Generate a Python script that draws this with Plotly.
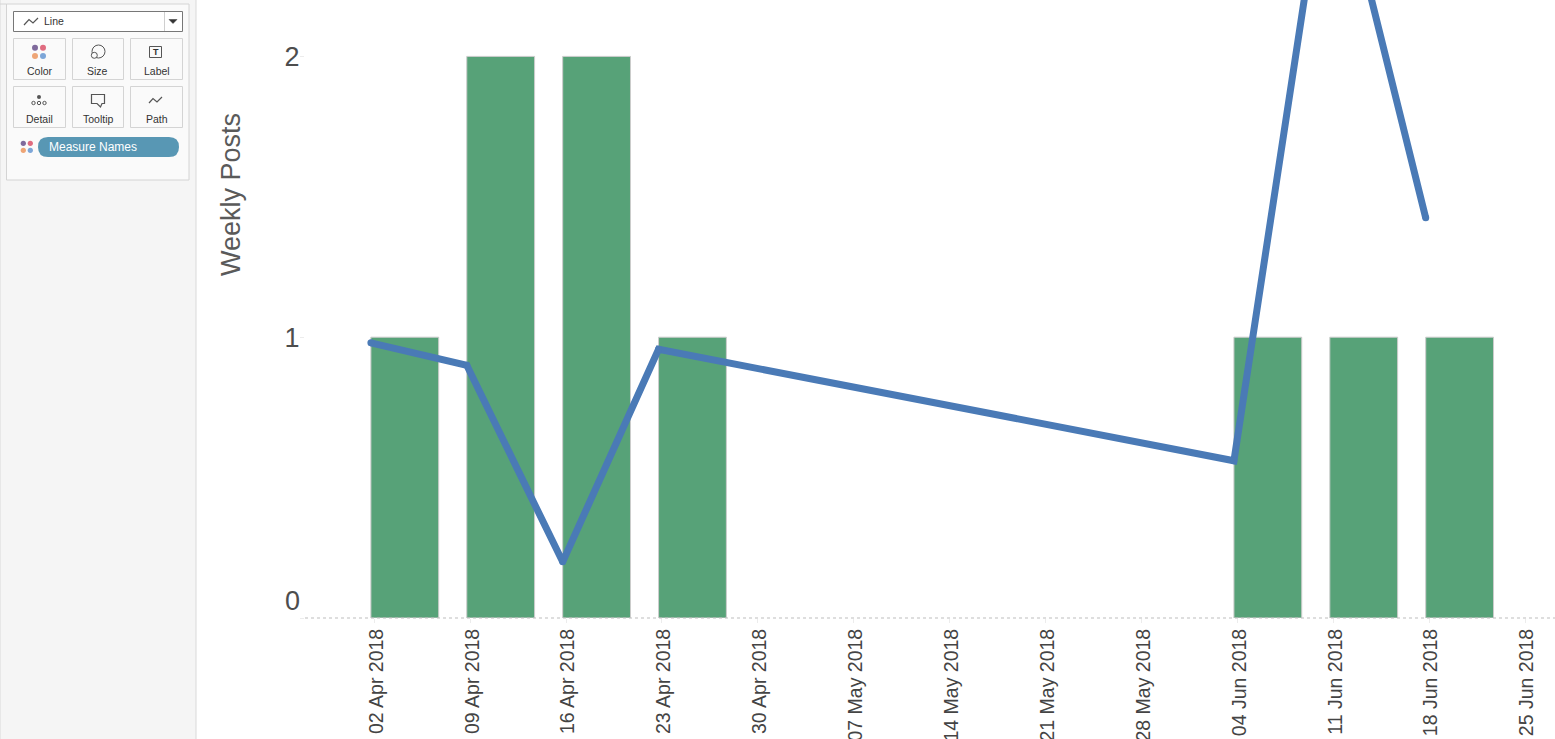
import plotly.graph_objects as go

# weekly data
bar_weeks = ['2018-04-02', '2018-04-09', '2018-04-16', '2018-04-23', '2018-06-04', '2018-06-11', '2018-06-18']
weekly_posts = [1, 2, 2, 1, 1, 1, 1]
line_values = [0.98, 0.90, 0.20, 0.957, 0.56, 2.80, 1.425]

tick_weeks = ['2018-04-02', '2018-04-09', '2018-04-16', '2018-04-23', '2018-04-30', '2018-05-07', '2018-05-14',
              '2018-05-21', '2018-05-28', '2018-06-04', '2018-06-11', '2018-06-18', '2018-06-25']
tick_labels = ['02 Apr 2018', '09 Apr 2018', '16 Apr 2018', '23 Apr 2018', '30 Apr 2018', '07 May 2018', '14 May 2018',
               '21 May 2018', '28 May 2018', '04 Jun 2018', '11 Jun 2018', '18 Jun 2018', '25 Jun 2018']

W, H = 1555, 739
DAY_MS = 86400000
FONT = 'Liberation Sans'
BORDER = '#d4d4d4'


def px(x):
    return x / W


def py(y):
    return 1 - y / H


def rect(x0, y0, x1, y1, fill=None, line=BORDER, width=1):
    return dict(type='rect', xref='paper', yref='paper', x0=px(x0), x1=px(x1), y0=py(y0), y1=py(y1),
                fillcolor=fill if fill else 'rgba(0,0,0,0)', line=dict(color=line, width=width), layer='below')


def dot(cx, cy, r, fill=None, line=None, width=1):
    return dict(type='circle', xref='paper', yref='paper', x0=px(cx - r), x1=px(cx + r), y0=py(cy - r), y1=py(cy + r),
                fillcolor=fill if fill else 'rgba(0,0,0,0)', line=dict(color=line if line else 'rgba(0,0,0,0)', width=width))


def poly(points, color='#555555', width=1.2, fill=None, close=False):
    path = 'M ' + ' L '.join(f'{px(x)} {py(y)}' for x, y in points) + (' Z' if close else '')
    return dict(type='path', xref='paper', yref='paper', path=path, fillcolor=fill if fill else 'rgba(0,0,0,0)',
                line=dict(color=color, width=width))


def label(x, y, text, size=10.5, color='#333333', anchor='center'):
    return dict(xref='paper', yref='paper', x=px(x), y=py(y), text=text, showarrow=False, xanchor=anchor, yanchor='middle',
                font=dict(family=FONT, size=size, color=color))


fig = go.Figure()

fig.add_trace(go.Bar(x=bar_weeks, y=weekly_posts, width=4.95 * DAY_MS, offset=0,
                     marker=dict(color='#57a278', line=dict(color='#cccccc', width=1)), name='Weekly Posts'))
fig.add_trace(go.Scatter(x=bar_weeks, y=line_values, mode='lines+markers',
                         line=dict(color='#4a7ab6', width=7, shape='linear'),
                         marker=dict(color='#4a7ab6', size=7), name='Moving Average'))

# sidebar panel and the marks card
shapes = [
    rect(0, -2, 196, H + 2, fill='#f5f5f5', line='#d9d9d9'),
    rect(6.5, 4, 189, 180, fill='#fafafa'),
    poly([(0, 4), (6.5, 4)], color=BORDER, width=1),
    rect(13.5, 11.5, 182.5, 31.5, fill='#ffffff', line='#777777'),
    poly([(164.5, 12), (164.5, 31)], color='#cfcfcf', width=1),
    poly([(169, 19.5), (177, 19.5), (173, 23.5)], color='#333333', fill='#333333', width=0.5, close=True),
    poly([(24, 25), (29, 19.5), (33, 23), (38, 18)], width=1.2),
]
for x0, x1 in [(13.5, 65.5), (72.5, 123.5), (130.5, 182.5)]:
    shapes.append(rect(x0, 38.5, x1, 79.5, fill='#fafafa'))
    shapes.append(rect(x0, 86.5, x1, 127.5, fill='#fafafa'))

# card icons
shapes += [
    dot(35, 47.7, 3, fill='#7f6a9c'), dot(43, 47.7, 3, fill='#e06c80'),
    dot(35, 56, 3, fill='#eea576'), dot(43, 56, 3, fill='#7da6d8'),
    dot(98.5, 51.5, 6.5, line='#555555'), dot(94.3, 55.3, 3, fill='#fafafa', line='#555555'),
    rect(149.5, 46.5, 161.5, 57.5, fill='#fafafa', line='#555555'),
    dot(39, 97, 2, fill='#555555'), dot(33.5, 103, 1.7, line='#555555'),
    dot(39, 103, 1.7, line='#555555'), dot(44.5, 103, 1.7, line='#555555'),
    poly([(91.5, 94.5), (104.5, 94.5), (104.5, 103.5), (102, 103.5), (100.5, 107), (97, 103.5), (91.5, 103.5)], close=True),
    poly([(149, 103), (153, 98.5), (157, 102), (162, 97)]),
    dot(23.3, 143.3, 2.6, fill='#7f6a9c'), dot(30.3, 143.3, 2.6, fill='#e06c80'),
    dot(23.3, 150.3, 2.6, fill='#eea576'), dot(30.3, 150.3, 2.6, fill='#7da6d8'),
    dict(type='path', xref='paper', yref='paper', fillcolor='#5897b4', line=dict(width=0),
         path=f'M {px(48)} {py(137)} L {px(169)} {py(137)} Q {px(179)} {py(137)} {px(179)} {py(147)} '
              f'Q {px(179)} {py(157)} {px(169)} {py(157)} L {px(48)} {py(157)} '
              f'Q {px(38)} {py(157)} {px(38)} {py(147)} Q {px(38)} {py(137)} {px(48)} {py(137)} Z'),
    # dotted baseline
    dict(type='line', xref='paper', yref='paper', x0=px(305), x1=1, y0=py(618), y1=py(618),
         line=dict(color='#bdbdbd', width=1, dash='dot')),
]

annotations = [
    label(41.5, 21, 'Line', anchor='left'),
    label(39.5, 71, 'Color'), label(97.5, 71, 'Size'), label(156.5, 71, 'Label'),
    label(39, 119, 'Detail'), label(98.5, 119, 'Tooltip'), label(156.5, 119, 'Path'),
    label(155.5, 52, '<b>T</b>', size=9),
    label(47, 147, 'Measure Names', size=12, color='#ffffff', anchor='left'),
    # axis title
    dict(xref='paper', yref='paper', x=px(231), y=py(195), text='Weekly Posts', textangle=-90, showarrow=False,
         xanchor='center', yanchor='middle', font=dict(family=FONT, size=27, color='#5a5a5a')),
    # the zero label sits above its tick
    dict(xref='paper', yref='y', x=px(300), y=0, yshift=17, text='0', showarrow=False, xanchor='right', yanchor='middle',
         xshift=2, font=dict(family=FONT, size=27, color='#4d4d4d')),
]

fig.update_layout(
    width=W, height=H,
    margin=dict(l=0, r=0, t=0, b=0),
    autosize=False,
    paper_bgcolor='#ffffff',
    plot_bgcolor='#ffffff',
    showlegend=False,
    shapes=shapes,
    annotations=annotations,
    xaxis=dict(
        type='date',
        domain=[px(305), 1],
        range=['2018-03-28 04:34', '2018-06-27 10:30'],
        # ticks sit a quarter day into the week
        tickmode='array',
        tickvals=[d + ' 06:00' for d in tick_weeks],
        ticktext=tick_labels,
        tickangle=-90,
        ticklabelshift=2,
        ticklabelstandoff=-2,
        ticks='outside', ticklen=4, tickcolor='#ececec', tickwidth=1,
        tickfont=dict(family=FONT, size=19.5, color='#444444'),
        showgrid=False, zeroline=False, showline=False,
        automargin=False,
    ),
    yaxis=dict(
        domain=[py(618), 1],
        range=[0, 618 / 280.8],
        tickmode='array',
        tickvals=[0, 1, 2],
        ticktext=['', '1', '2'],
        ticklabelstandoff=-5,
        ticks='outside', ticklen=4, tickcolor='#ececec', tickwidth=1,
        tickfont=dict(family=FONT, size=27, color='#4d4d4d'),
        showgrid=False, zeroline=False, showline=False,
        automargin=False,
    ),
)

fig.write_html('out.html', config={'displayModeBar': False},
               post_script="document.body.style.margin='0';document.body.style.overflow='hidden';")
